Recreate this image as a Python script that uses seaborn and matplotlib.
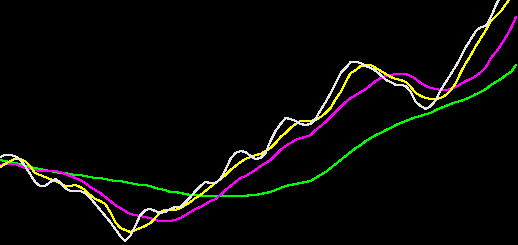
import numpy as np
import pandas as pd
import matplotlib
matplotlib.use("Agg")
import matplotlib.pyplot as plt
import seaborn as sns

# x positions (bar index) shared by all series
x = list(range(0, 520, 5))

# series values (screen-depth units, axis is inverted)
price = [157,155,155,156,160,166,174,182,186,186,182,179,182,188,191,191,191,193,198,204,
         210,216,222,229,236,241,236,226,215,210,209,211,213,212,209,207,207,202,197,191,
         186,182,183,183,179,170,159,153,151,152,156,159,158,153,141,131,124,118,119,121,
         124,125,124,119,110,102,93,83,73,68,62,62,63,66,68,71,75,80,82,85,
         85,86,92,102,106,109,106,100,90,82,74,66,57,47,39,31,27,26,17,5,
         -5,-15,-25,-35]
ma_fast = [167,164,161,159,159,161,166,173,175,177,179,181,183,186,186,185,187,190,195,199,
           201,204,212,222,228,230,232,230,228,226,223,218,212,210,210,210,208,205,202,198,
           195,191,187,183,179,175,170,166,162,159,157,155,154,151,148,143,137,133,128,124,
           121,121,121,120,117,113,108,99,92,82,73,70,66,65,65,68,71,74,77,79,
           80,82,87,93,96,98,99,99,98,95,90,83,72,63,55,46,38,30,21,16,
           11,4,-3,-10]
ma_mid = [165,164,164,164,166,168,169,170,171,171,171,171,172,174,176,178,180,183,187,190,
          193,197,201,205,208,211,214,215,216,217,218,220,221,221,221,220,218,215,212,209,
          207,204,201,199,195,190,186,182,178,176,173,170,166,163,160,155,150,146,143,140,
          138,137,135,130,126,122,117,112,107,102,98,95,92,89,85,81,78,76,75,74,
          74,74,76,79,83,86,88,89,90,90,89,87,84,81,79,76,72,67,58,52,
          45,37,28,17]
ma_slow = [160,161,162,163,164,166,167,168,169,170,171,172,173,173,174,175,175,176,177,178,
           178,179,180,181,181,182,183,184,185,185,186,188,189,190,192,192,193,194,195,195,
           196,196,196,196,196,196,196,196,196,196,195,195,194,193,192,190,188,186,185,184,
           183,182,181,178,175,172,168,164,160,156,152,148,145,141,138,135,133,130,128,125,
           123,121,119,117,116,114,113,110,108,106,104,102,101,99,97,94,92,89,85,82,
           79,75,72,65]

series_names = ["slow", "mid", "fast", "price"]
colors = {"slow": "#00ff00", "mid": "#ff00ff", "fast": "#ffff00", "price": "#e6e6e6"}

df = pd.concat([
    pd.DataFrame({"x": x, "v": ma_slow, "s": "slow"}),
    pd.DataFrame({"x": x, "v": ma_mid, "s": "mid"}),
    pd.DataFrame({"x": x, "v": ma_fast, "s": "fast"}),
    pd.DataFrame({"x": x, "v": price, "s": "price"}),
])

sns.set_style("dark")
fig = plt.figure(figsize=(5.18, 2.45), dpi=100, facecolor="black")
ax = fig.add_axes([0, 0, 1, 1])
ax.set_facecolor("black")
sns.lineplot(data=df, x="x", y="v", hue="s", hue_order=series_names, palette=colors,
             linewidth=0.75, legend=False, ax=ax, antialiased=False, sort=False)
ax.set_xlim(0, 517)
ax.set_ylim(245, 0)
ax.axis("off")
fig.savefig("out.png", dpi=100, facecolor="black")
